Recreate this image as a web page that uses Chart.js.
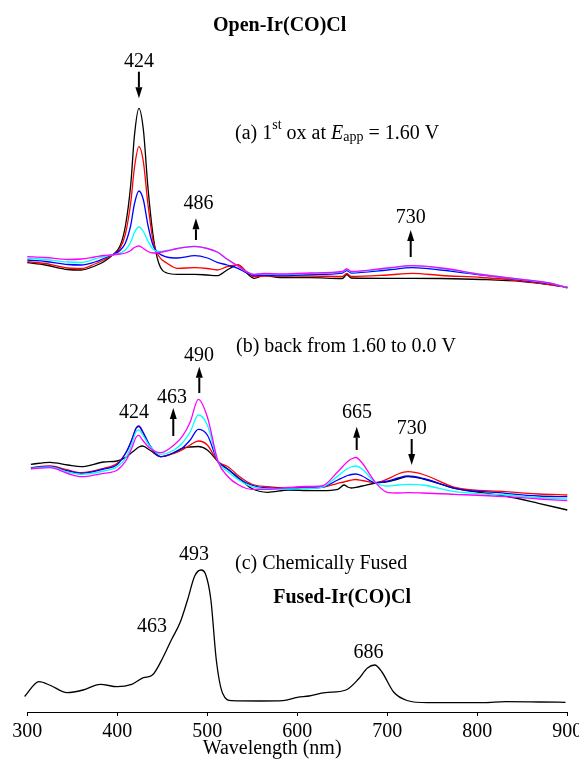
<!DOCTYPE html>
<html>
<head>
<meta charset="utf-8">
<script src="https://cdn.jsdelivr.net/npm/chart.js@4.4.0/dist/chart.umd.min.js"></script>
<style>
  html, body { margin: 0; padding: 0; background: #fff; }
  canvas { display: block; }
</style>
</head>
<body>
<canvas id="spectra" width="579" height="767"></canvas>
<script>
// x axis ticks (nm)
var wavelengthTicks = [300, 400, 500, 600, 700, 800, 900];

// (a) first oxidation at 1.60 V
var wlA = [300, 320, 345, 360, 375, 385, 394, 403, 409, 415, 419, 424, 429, 434, 440, 446, 455, 467, 486, 500,
           511, 522, 534, 544, 552, 563, 581, 615, 650, 655, 660, 700, 728, 760, 805, 850, 880, 900];
var aBlack = [0.493, 0.47, 0.425, 0.42, 0.46, 0.503, 0.565, 0.66, 0.86, 1.28, 1.76, 2.037, 1.82, 1.25, 0.75, 0.49, 0.39, 0.377, 0.377, 0.37,
              0.363, 0.42, 0.47, 0.387, 0.337, 0.363, 0.345, 0.343, 0.335, 0.375, 0.34, 0.337, 0.337, 0.335, 0.325, 0.305, 0.275, 0.245];
var aRed = [0.503, 0.485, 0.44, 0.435, 0.48, 0.52, 0.565, 0.635, 0.78, 1.1, 1.44, 1.653, 1.5, 1.08, 0.7, 0.56, 0.49, 0.437, 0.443, 0.435,
            0.42, 0.453, 0.47, 0.403, 0.353, 0.36, 0.36, 0.36, 0.355, 0.385, 0.355, 0.37, 0.387, 0.365, 0.345, 0.31, 0.275, 0.245];
var aBlue = [0.52, 0.505, 0.475, 0.47, 0.5, 0.535, 0.57, 0.615, 0.69, 0.87, 1.08, 1.21, 1.12, 0.87, 0.66, 0.587, 0.55, 0.54, 0.563, 0.54,
             0.497, 0.47, 0.437, 0.39, 0.365, 0.37, 0.365, 0.375, 0.39, 0.415, 0.39, 0.42, 0.443, 0.42, 0.37, 0.32, 0.285, 0.245];
var aCyan = [0.54, 0.525, 0.5, 0.495, 0.53, 0.555, 0.57, 0.59, 0.62, 0.7, 0.795, 0.85, 0.805, 0.71, 0.625, 0.605, 0.615, 0.635, 0.655, 0.635,
             0.6, 0.525, 0.46, 0.4, 0.375, 0.38, 0.375, 0.385, 0.4, 0.425, 0.4, 0.435, 0.463, 0.435, 0.375, 0.325, 0.29, 0.245];
var aMagenta = [0.553, 0.545, 0.525, 0.53, 0.55, 0.565, 0.57, 0.58, 0.59, 0.615, 0.645, 0.66, 0.635, 0.605, 0.59, 0.595, 0.61, 0.635, 0.657, 0.635,
                0.6, 0.53, 0.46, 0.4, 0.375, 0.385, 0.38, 0.39, 0.405, 0.43, 0.405, 0.44, 0.463, 0.44, 0.375, 0.325, 0.29, 0.24];

// (b) stepping back from 1.60 to 0.0 V
var wlB = [304, 325, 345, 360, 385, 400, 410, 416, 421, 424, 428, 436, 448, 463, 472, 481, 490, 500, 512, 523,
           535, 549, 567, 590, 610, 627, 645, 652, 656, 660, 665, 672, 687, 701, 712, 723, 740, 775, 831, 868, 900];
var bBlack = [0.477, 0.497, 0.47, 0.453, 0.5, 0.51, 0.55, 0.595, 0.63, 0.65, 0.66, 0.62, 0.553, 0.593, 0.637, 0.65, 0.655, 0.62, 0.503, 0.427,
              0.34, 0.237, 0.197, 0.22, 0.215, 0.213, 0.227, 0.27, 0.25, 0.24, 0.247, 0.26, 0.29, 0.303, 0.33, 0.353, 0.33, 0.237, 0.16, 0.087, 0.02];
var bRed = [0.443, 0.46, 0.42, 0.393, 0.437, 0.487, 0.6, 0.72, 0.84, 0.855, 0.8, 0.66, 0.553, 0.587, 0.62, 0.67, 0.71, 0.67, 0.503, 0.453,
            0.36, 0.28, 0.253, 0.24, 0.245, 0.247, 0.287, 0.3, 0.31, 0.318, 0.325, 0.315, 0.293, 0.333, 0.38, 0.403, 0.375, 0.247, 0.203, 0.18, 0.17];
var bBlue = [0.44, 0.455, 0.41, 0.387, 0.43, 0.475, 0.6, 0.72, 0.84, 0.86, 0.81, 0.67, 0.553, 0.593, 0.637, 0.72, 0.827, 0.77, 0.503, 0.427,
             0.335, 0.27, 0.24, 0.235, 0.24, 0.247, 0.32, 0.35, 0.365, 0.375, 0.38, 0.36, 0.293, 0.31, 0.34, 0.36, 0.335, 0.237, 0.187, 0.16, 0.153];
var bCyan = [0.435, 0.45, 0.4, 0.377, 0.41, 0.453, 0.55, 0.68, 0.805, 0.82, 0.775, 0.66, 0.577, 0.62, 0.687, 0.8, 0.97, 0.87, 0.503, 0.403,
             0.32, 0.253, 0.23, 0.23, 0.235, 0.247, 0.36, 0.41, 0.435, 0.45, 0.46, 0.43, 0.293, 0.26, 0.27, 0.277, 0.27, 0.203, 0.17, 0.145, 0.13];
var bMagenta = [0.43, 0.443, 0.385, 0.353, 0.387, 0.42, 0.52, 0.637, 0.75, 0.767, 0.72, 0.64, 0.593, 0.67, 0.753, 0.9, 1.127, 0.953, 0.503, 0.353,
                0.27, 0.227, 0.227, 0.245, 0.255, 0.26, 0.403, 0.47, 0.505, 0.53, 0.545, 0.49, 0.293, 0.193, 0.19, 0.193, 0.19, 0.177, 0.153, 0.13, 0.113];

// (c) chemically fused compound
var wlC = [297, 313, 326, 344, 362, 381, 400, 416, 429, 439, 451, 460, 470, 478, 486, 493, 498, 504, 510, 517,
           527, 559, 584, 600, 613, 631, 654, 668, 678, 686, 694, 707, 722, 745, 807, 831, 869, 898];
var cFused = [0.155, 0.303, 0.265, 0.193, 0.22, 0.277, 0.253, 0.277, 0.343, 0.37, 0.55, 0.72, 0.9, 1.12, 1.36, 1.42, 1.38, 1.12, 0.52, 0.187,
              0.113, 0.11, 0.113, 0.147, 0.16, 0.193, 0.22, 0.33, 0.44, 0.47, 0.4, 0.2, 0.115, 0.093, 0.093, 0.103, 0.1, 0.097];

var SERIF = "'Liberation Serif', 'Times New Roman', serif";

// each panel is lifted by a constant so the three stacks share one axis
function trace(wl, vals, lift, color) {
    return {
        data: wl.map(function (w, i) { return { x: w, y: vals[i] + lift }; }),
        borderColor: color,
        borderWidth: 1.3,
        pointRadius: 0,
        cubicInterpolationMode: 'monotone',
        clip: false
    };
}

var datasets = [
    trace(wlA, aMagenta, 4, '#ff00ff'),
    trace(wlA, aCyan, 4, '#00ffff'),
    trace(wlA, aBlue, 4, '#0000ff'),
    trace(wlA, aRed, 4, '#ff0000'),
    trace(wlA, aBlack, 4, '#000000'),
    trace(wlB, bMagenta, 2, '#ff00ff'),
    trace(wlB, bCyan, 2, '#00ffff'),
    trace(wlB, bBlue, 2, '#0000ff'),
    trace(wlB, bRed, 2, '#ff0000'),
    trace(wlB, bBlack, 2, '#000000'),
    trace(wlC, cFused, 0, '#000000')
];

// text placed in (wavelength, axis value) coordinates
var notes = [
    { text: 'Open-Ir(CO)Cl', wl: 580.4, v: 6.86, bold: true },
    { text: '424', wl: 424, v: 6.503 },
    { text: '486', wl: 490.3, v: 5.087 },
    { text: '730', wl: 726, v: 4.94 },
    { text: '(b) back from 1.60 to 0.0 V', wl: 531.9, v: 3.653, align: 'left' },
    { text: '490', wl: 490.8, v: 3.56 },
    { text: '463', wl: 460.8, v: 3.14 },
    { text: '424', wl: 418.6, v: 2.993 },
    { text: '665', wl: 666.3, v: 2.99 },
    { text: '730', wl: 727.1, v: 2.837 },
    { text: '493', wl: 485.2, v: 1.57 },
    { text: '(c) Chemically Fused', wl: 530.8, v: 1.48, align: 'left' },
    { text: 'Fused-Ir(CO)Cl', wl: 573.3, v: 1.145, align: 'left', bold: true },
    { text: '463', wl: 438.6, v: 0.85 },
    { text: '686', wl: 679.1, v: 0.59 },
    { text: 'Wavelength (nm)', wl: 572, v: -0.37 }
];

var oxCaption = {
    wl: 530.8, v: 5.73,
    runs: [
        { text: '(a) 1' },
        { text: 'st', shift: 10 },
        { text: ' ox at ' },
        { text: 'E', italic: true },
        { text: 'app', shift: -1.5 },
        { text: ' = 1.60 V' }
    ]
};

var arrows = [
    { wl: 424, from: 6.403, to: 6.137 },
    { wl: 487.4, from: 4.72, to: 4.937 },
    { wl: 726, from: 4.55, to: 4.82 },
    { wl: 491.1, from: 3.19, to: 3.453 },
    { wl: 462.2, from: 2.76, to: 3.04 },
    { wl: 666, from: 2.62, to: 2.853 },
    { wl: 727.1, from: 2.73, to: 2.47 }
];

var notesPlugin = {
    id: 'spectrumNotes',
    afterDraw: function (chart) {
        var ctx = chart.ctx;
        var xs = chart.scales.x, ys = chart.scales.y;
        ctx.save();
        ctx.fillStyle = '#000';
        ctx.strokeStyle = '#000';

        notes.forEach(function (n) {
            ctx.font = (n.bold ? 'bold ' : '') + '20px ' + SERIF;
            ctx.textAlign = n.align || 'center';
            ctx.textBaseline = 'middle';
            ctx.fillText(n.text, xs.getPixelForValue(n.wl), ys.getPixelForValue(n.v));
        });

        // caption with superscript and subscript
        var px = xs.getPixelForValue(oxCaption.wl);
        var py = ys.getPixelForValue(oxCaption.v);
        ctx.textAlign = 'left';
        ctx.textBaseline = 'alphabetic';
        oxCaption.runs.forEach(function (r) {
            var size = r.shift ? 14 : 20;
            ctx.font = (r.italic ? 'italic ' : '') + size + 'px ' + SERIF;
            ctx.fillText(r.text, px, py - (r.shift || 0));
            px += ctx.measureText(r.text).width;
        });

        // peak arrows
        ctx.lineWidth = 2;
        arrows.forEach(function (a) {
            var x = xs.getPixelForValue(a.wl);
            var y0 = ys.getPixelForValue(a.from);
            var y1 = ys.getPixelForValue(a.to);
            var dir = y1 > y0 ? 1 : -1;
            var head = 11;
            ctx.beginPath();
            ctx.moveTo(x, y0);
            ctx.lineTo(x, y1 - dir * head);
            ctx.stroke();
            ctx.beginPath();
            ctx.moveTo(x, y1);
            ctx.lineTo(x - 3.5, y1 - dir * head);
            ctx.lineTo(x + 3.5, y1 - dir * head);
            ctx.closePath();
            ctx.fill();
        });
        ctx.restore();
    }
};

var ctx = document.getElementById('spectra').getContext('2d');
var spectraChart = new Chart(ctx, {
    type: 'line',
    data: { datasets: datasets },
    options: {
        responsive: false,
        animation: false,
        layout: { padding: { left: 27.3, right: 11.7, top: 40, bottom: 0 } },
        plugins: {
            legend: { display: false },
            tooltip: { enabled: false }
        },
        scales: {
            x: {
                type: 'linear',
                min: 300,
                max: 900,
                afterBuildTicks: function (scale) {
                    scale.ticks = wavelengthTicks.map(function (value) { return { value: value }; });
                },
                afterFit: function (scale) {
                    // room below the axis for tick labels and the axis caption
                    scale.height = 55;
                    scale.paddingLeft = 0;
                    scale.paddingRight = 0;
                },
                ticks: {
                    color: '#000',
                    font: { family: SERIF, size: 20 },
                    padding: 4,
                    maxRotation: 0,
                    autoSkip: false
                },
                grid: { drawOnChartArea: false, drawTicks: true, tickLength: 4, color: '#000' },
                border: { color: '#000', width: 1 }
            },
            y: {
                display: false,
                min: 0,
                max: 6.72
            }
        }
    },
    plugins: [notesPlugin]
});
</script>
</body>
</html>
